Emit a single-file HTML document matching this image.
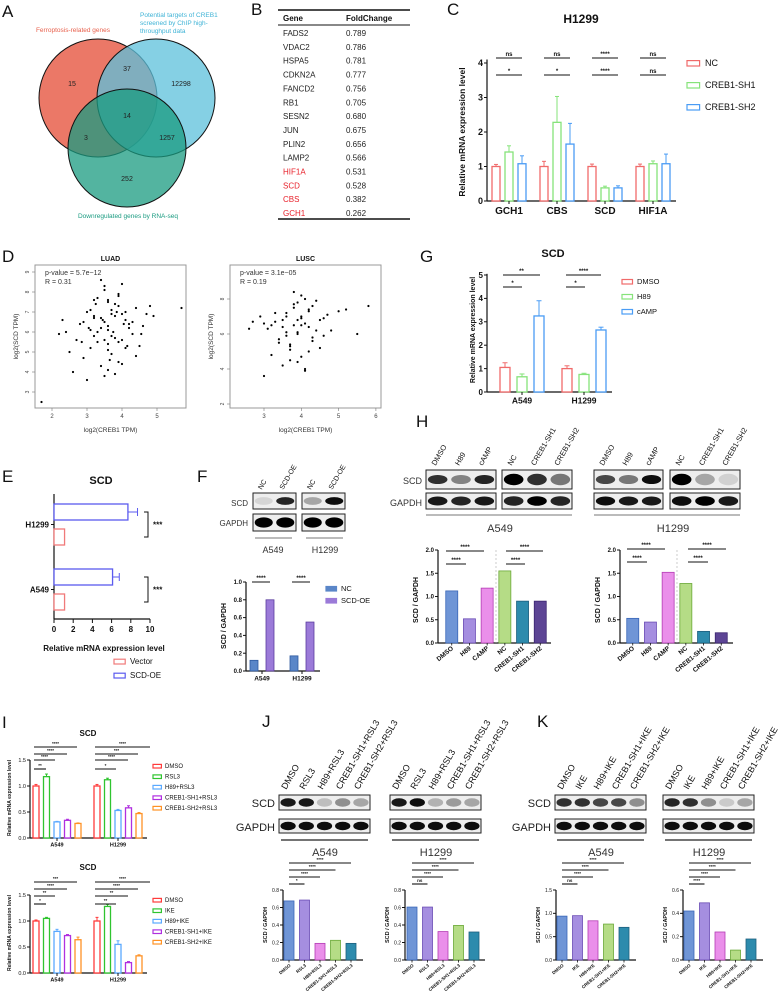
<!DOCTYPE html>
<html><head><meta charset="utf-8"><style>
html,body{margin:0;padding:0;background:#fff;}
svg{display:block;font-family:"Liberation Sans",sans-serif;}
</style></head><body>
<svg id="fig" width="779" height="992" viewBox="0 0 779 992" xmlns="http://www.w3.org/2000/svg"></svg>
<script>
// ---------- data ----------
const vennCounts = [15, 37, 12298, 14, 3, 1257, 252];
const tableGenes = ["FADS2","VDAC2","HSPA5","CDKN2A","FANCD2","RB1","SESN2","JUN","PLIN2","LAMP2","HIF1A","SCD","CBS","GCH1"];
const tableFold = ["0.789","0.786","0.781","0.777","0.756","0.705","0.680","0.675","0.656","0.566","0.531","0.528","0.382","0.262"];
const cCats = ["GCH1","CBS","SCD","HIF1A"];
const cSeries = ["NC","CREB1-SH1","CREB1-SH2"];
const cVals = [[1,1.42,1.08],[1,2.28,1.65],[1,0.38,0.38],[1,1.08,1.08]];
const cErr = [[0.06,0.18,0.23],[0.15,0.75,0.6],[0.07,0.05,0.06],[0.07,0.08,0.28]];
const gCats = ["A549","H1299"];
const gSeries = ["DMSO","H89","cAMP"];
const gVals = [[1.05,0.65,3.25],[1.0,0.75,2.65]];
const gErr = [[0.2,0.12,0.65],[0.12,0.05,0.12]];
const eCats = ["H1299","A549"];
const eVector = [1.1,1.1];
const eOE = [7.7,6.1];
const eOEErr = [1.0,0.7];
const fCats = ["A549","H1299"];
const fVals = [[0.12,0.8],[0.17,0.55]];
const hCats = ["DMSO","H89","CAMP","NC","CREB1-SH1","CREB1-SH2"];
const hA549 = [1.12,0.52,1.18,1.55,0.9,0.9];
const hH1299 = [0.53,0.45,1.52,1.28,0.25,0.22];
const iSeriesTop = ["DMSO","RSL3","H89+RSL3","CREB1-SH1+RSL3","CREB1-SH2+RSL3"];
const iTop = [[1.0,1.18,0.31,0.34,0.28],[1.0,1.12,0.53,0.58,0.47]];
const iTopErr = [[0.03,0.05,0.01,0.02,0.01],[0.03,0.03,0.02,0.04,0.02]];
const iSeriesBot = ["DMSO","IKE","H89+IKE","CREB1-SH1+IKE","CREB1-SH2+IKE"];
const iBot = [[1.0,1.05,0.8,0.72,0.64],[1.0,1.28,0.55,0.2,0.33]];
const iBotErr = [[0.02,0.02,0.04,0.02,0.05],[0.07,0.04,0.07,0.02,0.02]];
const jCats = ["DMSO","RSL3","H89+RSL3","CREB1-SH1+RSL3","CREB1-SH2+RSL3"];
const jA549 = [0.675,0.685,0.19,0.225,0.19];
const jH1299 = [0.605,0.605,0.325,0.395,0.32];
const kCats = ["DMSO","IKE","H89+IKE","CREB1-SH1+IKE","CREB1-SH2+IKE"];
const kA549 = [0.94,0.95,0.84,0.77,0.7];
const kH1299 = [0.42,0.49,0.24,0.085,0.18];
const luadX = [3.5,3.7,3.2,4.0,3.9,3.4,3.6,4.2,3.1,3.8,2.9,4.4,3.3,3.6,4.1,3.0,3.7,3.5,4.6,2.7,3.9,3.4,4.3,3.2,3.8,3.6,2.5,4.0,3.1,4.8,3.5,3.7,2.3,3.9,4.1,3.3,3.6,4.5,2.8,3.4,3.8,4.2,3.0,3.6,4.0,3.2,2.6,4.7,3.5,3.9,1.7,5.7,2.2,3.6,4.4,3.3,3.1,3.8,4.9,2.9,3.7,3.5,4.1,3.4,2.4,3.9,4.3,3.6,3.2,4.0,3.75,3.45,4.15,3.05,3.85,4.55,2.85,3.25,3.65,4.05];
const luadY = [6.5,7.1,5.8,6.9,5.5,6.2,7.6,6.4,5.2,6.8,4.7,7.2,6.0,5.4,6.6,7.0,4.9,8.1,6.3,5.6,7.8,4.3,5.9,6.7,7.4,5.1,5.0,8.4,6.1,7.3,3.8,6.9,6.6,4.5,7.0,7.7,6.3,5.3,6.4,8.6,5.7,6.2,3.6,7.5,4.4,6.8,4.0,6.9,5.6,7.9,2.5,7.2,5.9,6.1,4.8,5.5,7.1,3.9,6.8,6.5,5.8,8.3,5.2,6.7,6.0,7.3,6.5,4.1,7.6,5.6,6.0,6.6,5.3,6.2,7.0,5.9,5.5,7.4,4.6,6.4];
const luscX = [4.0,3.8,4.2,3.5,4.4,3.9,3.6,4.1,3.3,4.6,3.7,4.3,3.1,4.0,3.9,4.7,3.4,4.2,3.8,2.7,4.5,3.6,4.1,3.2,3.9,5.0,3.7,4.3,2.9,4.0,3.5,4.8,3.8,4.2,3.0,4.1,3.6,5.5,3.4,4.4,3.9,2.6,4.0,3.7,5.2,3.3,4.6,3.8,4.1,3.5,3.0,5.8,3.9,4.3,3.6,4.0,3.2,4.5,3.7,4.2];
const luscY = [7.0,6.5,7.4,6.8,6.2,7.8,5.9,6.6,7.2,6.9,5.4,7.6,6.3,8.2,6.0,7.1,5.7,6.4,7.5,6.7,5.2,6.1,8.0,4.8,6.8,7.3,4.5,5.8,7.0,6.5,4.2,6.2,7.7,5.0,6.6,3.9,7.2,6.0,5.5,7.9,4.4,6.3,6.9,5.3,7.4,6.7,5.9,8.4,4.0,6.4,3.6,7.6,6.1,5.6,7.0,4.7,6.5,6.8,5.1,7.3];

// ---------- helpers ----------
const svg = document.getElementById('fig');
const NS = 'http://www.w3.org/2000/svg';
function mk(tag, attrs, name, parent) {
  const e = document.createElementNS(NS, tag);
  for (const k in attrs) e.setAttribute(k, attrs[k]);
  
  
  (parent || svg).appendChild(e);
  return e;
}
function txt(x, y, s, size, name, opt) {
  opt = opt || {};
  const t = mk('text', {x: x, y: y, 'font-size': size, fill: opt.fill || '#111', 'text-anchor': opt.anchor || 'start',
    'font-weight': opt.bold ? 'bold' : 'normal'}, name);
  if (opt.rot !== undefined) t.setAttribute('transform', 'rotate(' + opt.rot + ' ' + x + ' ' + y + ')');
  t.textContent = s;
  return t;
}
function line(x1, y1, x2, y2, name, w, c) {
  return mk('line', {x1: x1, y1: y1, x2: x2, y2: y2, stroke: c || '#111', 'stroke-width': w || 1}, name);
}
function letter(x, y, s) { txt(x, y, s, 17, 'panel-label-' + s.toLowerCase()); }

// vertical bar chart
function vchart(o) {
  const Y = v => o.y0 - v * o.ppu;
  line(o.ax, o.y0, o.ax, Y(o.ymax), o.name + '-y-axis', 1.2);
  line(o.ax, o.y0, o.xEnd, o.y0, o.name + '-x-axis', 1.2);
  o.ticks.forEach(t => {
    line(o.ax - 3, Y(t), o.ax, Y(t), o.name + '-y-tick', 1);
    txt(o.ax - 4, Y(t) + o.tf * 0.35, o.tickFmt ? t.toFixed(1) : String(t), o.tf, o.name + '-y-tick-label', {anchor: 'end', bold: o.boldTicks});
  });
  o.values.forEach((grp, g) => {
    const n = grp.length;
    grp.forEach((v, s) => {
      const cx = o.centers[g] + (s - (n - 1) / 2) * o.step;
      const col = o.colors[s];
      const r = mk('rect', {x: cx - o.bw / 2, y: Y(v), width: o.bw, height: v * o.ppu,
        fill: o.hollow ? '#fff' : col, stroke: o.hollow ? col : o.edge[s], 'stroke-width': o.hollow ? 1.3 : 0.8}, 'bar-' + o.name + '-' + g + '-' + s);
      if (o.errors) {
        const e = o.errors[g][s];
        line(cx, Y(v), cx, Y(v + e), 'error-bar', 1, o.hollow ? col : '#333');
        line(cx - o.bw / 4, Y(v + e), cx + o.bw / 4, Y(v + e), 'error-cap', 1, o.hollow ? col : '#333');
      }
    });
  });
  if (o.catLabels) o.catLabels.forEach((c, g) => {
    line(o.centers[g], o.y0, o.centers[g], o.y0 + 3, 'x-tick', 1);
    txt(o.centers[g], o.y0 + o.cf + 3, c, o.cf, o.name + '-x-label', {anchor: 'middle', bold: true});
  });
}
function vbarLabels(o, labels, size) {
  const n = labels.length;
  labels.forEach((c, s) => {
    const cx = o.centers[0] + (s - (n - 1) / 2) * o.step;
    line(cx, o.y0, cx, o.y0 + 2.5, 'x-tick', 0.8);
    txt(cx + 2, o.y0 + 6, c, size, o.name + '-x-label', {anchor: 'end', rot: -40, bold: true});
  });
}
function sig(x1, x2, y, s, name, size) {
  line(x1, y, x2, y, name + '-line', 1.1);
  txt((x1 + x2) / 2, y - 2, s, size || 6, name, {anchor: 'middle', bold: true});
}
function legend(x, y, dy, items, colors, size, hollow, name) {
  items.forEach((it, i) => {
    mk('rect', {x: x, y: y + i * dy - size * 0.6, width: size * 1.4, height: size * 0.6,
      fill: hollow ? '#fff' : colors[i], stroke: colors[i], 'stroke-width': 1.2}, name + '-swatch');
    txt(x + size * 2, y + i * dy, it, size, name + '-entry', {});
  });
}
function blot(x, y, w, h, ints, name, thick) {
  mk('rect', {x: x, y: y, width: w, height: h, fill: '#eee', stroke: '#222', 'stroke-width': 1}, name);
  const n = ints.length;
  ints.forEach((v, i) => {
    const cx = x + w * (i + 0.5) / n;
    mk('ellipse', {cx: cx, cy: y + h / 2, rx: w / n * 0.42, ry: h * (thick || 0.24), fill: '#000', opacity: v}, name + '-band');
  });
}
function laneLabels(x, w, n, y, labels, size, name) {
  labels.forEach((s, i) => {
    const cx = x + w * (i + 0.5) / n;
    txt(cx - 2, y, s, size, name, {rot: -60});
  });
}
function rotLabel(x, y, s, size, name) { txt(x, y, s, size, name, {anchor: 'middle', rot: -90, bold: true}); }

// ---------- A: Venn ----------
letter(2, 17, 'A');
mk('circle', {cx: 98, cy: 98, r: 59, fill: '#e8604c', 'fill-opacity': 0.85, stroke: '#111'}, 'venn-ferroptosis');
mk('circle', {cx: 156, cy: 98, r: 59, fill: '#5cc0db', 'fill-opacity': 0.75, stroke: '#111'}, 'venn-chip-targets');
mk('circle', {cx: 127, cy: 148, r: 59, fill: '#1a9b80', 'fill-opacity': 0.75, stroke: '#111'}, 'venn-downregulated');
txt(73, 32, 'Ferroptosis-related genes', 6.5, 'venn-label-ferroptosis', {anchor: 'middle', fill: '#e8604c'});
txt(140, 17, 'Potential targets of CREB1', 6.5, 'venn-label-chip', {fill: '#3fb3d6'});
txt(140, 25, 'screened by ChIP high-', 6.5, 'venn-label-chip', {fill: '#3fb3d6'});
txt(140, 33, 'throughput data', 6.5, 'venn-label-chip', {fill: '#3fb3d6'});
txt(128, 218, 'Downregulated genes by RNA-seq', 6.5, 'venn-label-rnaseq', {anchor: 'middle', fill: '#1a9b80'});
const vennPos = [[72,86],[127,71],[181,86],[127,118],[86,140],[167,140],[127,181]];
vennCounts.forEach((c, i) => txt(vennPos[i][0], vennPos[i][1], String(c), 7, 'venn-count', {anchor: 'middle', fill: '#222'}));

// ---------- B: table ----------
letter(251, 15, 'B');
line(278, 10, 410, 10, 'table-top-rule', 1.5);
txt(283, 21, 'Gene', 8, 'table-header-gene', {bold: true});
txt(346, 21, 'FoldChange', 8, 'table-header-fold', {bold: true});
line(278, 25, 410, 25, 'table-header-rule', 1);
tableGenes.forEach((g, i) => {
  const y = 36 + i * 13.85;
  const red = i >= 10;
  txt(283, y, g, 8, 'table-gene', {fill: red ? '#e8202a' : '#222'});
  txt(346, y, tableFold[i], 8, 'table-fold', {fill: '#222'});
});
line(278, 219, 410, 219, 'table-bottom-rule', 1.5);

// ---------- C ----------
letter(447, 15, 'C');
txt(581, 23, 'H1299', 12, 'c-title', {anchor: 'middle', bold: true});
const cColors = ['#f06a6a', '#86e37a', '#4a9cf5'];
vchart({name: 'c', ax: 487, y0: 201, ppu: 34.5, ymax: 4.1, ticks: [0,1,2,3,4], tf: 9, boldTicks: true, xEnd: 676,
  values: cVals, errors: cErr, centers: [509,557,605,653], step: 13, bw: 8, colors: cColors, hollow: true,
  catLabels: cCats, cf: 10});
rotLabel(465, 132, 'Relative mRNA expression level', 8.5, 'c-y-axis-title');
[[496,522,'*'],[544,570,'*'],[592,618,'****'],[640,666,'ns']].forEach((s, i) => sig(s[0], s[1], 75, s[2], 'c-sig-lower'));
[[496,522],[544,570],[592,618],[640,666]].forEach(s => sig(s[0], s[1], 58, ['ns','ns','****','ns'][[496,544,592,640].indexOf(s[0])], 'c-sig-upper'));
legend(687, 66, 22, cSeries, cColors, 9, true, 'c-legend');

// ---------- D ----------
letter(2, 262, 'D');
function scatter(name, bx, by, bw, bh, xs, ys, xT, yT, X, Y, title, pv, rv) {
  mk('rect', {x: bx, y: by, width: bw, height: bh, fill: '#fff', stroke: '#999', 'stroke-width': 1}, name + '-plot-box');
  txt(bx + bw / 2, by - 4, title, 7, name + '-title', {anchor: 'middle', bold: true});
  const n = Math.min(xs.length, ys.length);
  for (let i = 0; i < n; i++) mk('circle', {cx: X(xs[i]), cy: Y(ys[i]), r: 1.1, fill: '#000'}, name + '-point');
  xT.forEach(t => { line(X(t), by + bh, X(t), by + bh + 3, 'x-tick', 0.6, '#777'); txt(X(t), by + bh + 10, String(t), 6, name + '-x-tick-label', {anchor: 'middle', fill: '#444'}); });
  yT.forEach(t => { line(bx - 3, Y(t), bx, Y(t), 'y-tick', 0.6, '#777'); txt(bx - 6, Y(t), String(t), 5, name + '-y-tick-label', {anchor: 'middle', rot: -90, fill: '#444'}); });
  txt(bx + bw / 2, 432, 'log2(CREB1 TPM)', 6.5, name + '-x-axis-title', {anchor: 'middle', fill: '#333'});
  txt(bx - 17, by + bh / 2, 'log2(SCD TPM)', 6.5, name + '-y-axis-title', {anchor: 'middle', rot: -90, fill: '#333'});
  txt(bx + 10, by + 10, pv, 7, name + '-pvalue', {fill: '#333'});
  txt(bx + 10, by + 19, rv, 7, name + '-r', {fill: '#333'});
}
scatter('luad', 35, 265, 151, 143, luadX, luadY, [2,3,4,5], [3,4,5,6,7,8,9], v => 52 + (v - 2) * 35, v => 392 - (v - 3) * 20, 'LUAD', 'p-value = 5.7e\u221212', 'R = 0.31');
scatter('lusc', 230, 265, 151, 143, luscX, luscY, [3,4,5,6], [2,4,6,8], v => 264 + (v - 3) * 37.3, v => 404 - (v - 2) * 17.5, 'LUSC', 'p-value = 3.1e\u221205', 'R = 0.19');

// ---------- G ----------
letter(420, 262, 'G');
txt(553, 257, 'SCD', 11, 'g-title', {anchor: 'middle', bold: true});
vchart({name: 'g', ax: 487, y0: 392, ppu: 23.4, ymax: 5.05, ticks: [0,1,2,3,4,5], tf: 8, boldTicks: true, xEnd: 612,
  values: gVals, errors: gErr, centers: [522,584], step: 17, bw: 10, colors: ['#f06a6a','#86e37a','#4a9cf5'], hollow: true,
  catLabels: gCats, cf: 8.5});
rotLabel(475, 330, 'Relative mRNA expression level', 7, 'g-y-axis-title');
sig(503, 522, 287, '*', 'g-sig'); sig(503, 540, 275, '**', 'g-sig');
sig(566, 585, 287, '*', 'g-sig'); sig(566, 601, 275, '****', 'g-sig');
legend(622, 284, 15, gSeries, ['#f06a6a','#86e37a','#4a9cf5'], 7.5, true, 'g-legend');

// ---------- E ----------
letter(2, 482, 'E');
txt(101, 484, 'SCD', 11, 'e-title', {anchor: 'middle', bold: true});
(function(){
  const X = v => 54 + v * 9.6;
  line(54, 494, 54, 619, 'e-y-axis', 1.2);
  line(54, 619, 150, 619, 'e-x-axis', 1.2);
  [0,2,4,6,8,10].forEach(t => { line(X(t), 619, X(t), 623, 'x-tick', 1); txt(X(t), 632, String(t), 8, 'e-x-tick-label', {anchor: 'middle', bold: true}); });
  const rows = [[504, 529], [569, 594]];
  eCats.forEach((c, i) => {
    mk('rect', {x: 54, y: rows[i][0], width: X(eOE[i]) - 54, height: 16, fill: '#fff', stroke: '#5b5bef', 'stroke-width': 1.3}, 'bar-e-scd-oe');
    line(X(eOE[i]), rows[i][0] + 8, X(eOE[i] + eOEErr[i]), rows[i][0] + 8, 'error-bar', 1, '#5b5bef');
    line(X(eOE[i] + eOEErr[i]), rows[i][0] + 4, X(eOE[i] + eOEErr[i]), rows[i][0] + 12, 'error-cap', 1, '#5b5bef');
    mk('rect', {x: 54, y: rows[i][1], width: X(eVector[i]) - 54, height: 16, fill: '#fff', stroke: '#f07a7a', 'stroke-width': 1.3}, 'bar-e-vector');
    line(51, (rows[i][0] + rows[i][1] + 16) / 2, 54, (rows[i][0] + rows[i][1] + 16) / 2, 'y-tick', 1);
    txt(49, (rows[i][0] + rows[i][1] + 16) / 2 + 3, c, 8, 'e-y-label', {anchor: 'end', bold: true});
    const top = rows[i][0] + 8, bot = rows[i][1] + 8;
    mk('path', {d: 'M144,' + top + ' H148 V' + bot + ' H144', fill: 'none', stroke: '#111', 'stroke-width': 1}, 'e-bracket');
    txt(153, (top + bot) / 2 + 3, '***', 8, 'e-sig', {bold: true});
  });
  txt(104, 651, 'Relative mRNA expression level', 8, 'e-x-axis-title', {anchor: 'middle', bold: true});
  legend(114, 664, 14, ['Vector','SCD-OE'], ['#f07a7a','#5b5bef'], 8, true, 'e-legend');
})();

// ---------- F ----------
letter(197, 482, 'F');
laneLabels(253, 43, 2, 490, ['NC','SCD-OE'], 7, 'f-lane-label');
laneLabels(302, 43, 2, 490, ['NC','SCD-OE'], 7, 'f-lane-label');
blot(253, 493, 43, 16, [0.1, 0.85], 'f-blot-a549-scd');
blot(302, 493, 43, 16, [0.3, 0.95], 'f-blot-h1299-scd');
blot(253, 514, 43, 17, [1, 1], 'f-blot-a549-gapdh', 0.3);
blot(302, 514, 43, 17, [1, 1], 'f-blot-h1299-gapdh', 0.3);
txt(248, 506, 'SCD', 8, 'f-row-label', {anchor: 'end', fill: '#333'});
txt(248, 526, 'GAPDH', 8, 'f-row-label', {anchor: 'end', fill: '#333'});
line(255, 538, 292, 538, 'f-group-line', 1, '#777'); line(306, 538, 343, 538, 'f-group-line', 1, '#777');
txt(273, 553, 'A549', 9, 'f-group-label', {anchor: 'middle', fill: '#333'});
txt(325, 553, 'H1299', 9, 'f-group-label', {anchor: 'middle', fill: '#333'});
vchart({name: 'f', ax: 246, y0: 671, ppu: 89, ymax: 1.0, ticks: [0,0.2,0.4,0.6,0.8,1.0], tickFmt: true, tf: 6, boldTicks: true, xEnd: 320,
  values: fVals, centers: [262,302], step: 16, bw: 8, colors: ['#5a86c8','#9b7ad8'], edge: ['#2f5aa0','#5b3d9f'], catLabels: fCats, cf: 6.5});
rotLabel(226, 626, 'SCD / GAPDH', 7, 'f-y-axis-title');
sig(252, 270, 582, '****', 'f-sig'); sig(292, 310, 582, '****', 'f-sig');
legend(326, 591, 12, ['NC','SCD-OE'], ['#5a86c8','#9b7ad8'], 7.5, false, 'f-legend');

// ---------- H ----------
letter(416, 427, 'H');
const hLanes1 = ['DMSO','H89','cAMP'], hLanes2 = ['NC','CREB1-SH1','CREB1-SH2'];
laneLabels(426, 70, 3, 466, hLanes1, 7.5, 'h-lane-label'); laneLabels(502, 70, 3, 466, hLanes2, 7.5, 'h-lane-label');
laneLabels(594, 69, 3, 466, hLanes1, 7.5, 'h-lane-label'); laneLabels(670, 70, 3, 466, hLanes2, 7.5, 'h-lane-label');
blot(426, 470, 70, 19, [0.8,0.45,0.85], 'h-blot-a549-scd-1');
blot(502, 470, 70, 19, [1,0.8,0.5], 'h-blot-a549-scd-2', 0.3);
blot(594, 470, 69, 19, [0.7,0.5,0.95], 'h-blot-h1299-scd-1');
blot(670, 470, 70, 19, [1,0.3,0.12], 'h-blot-h1299-scd-2', 0.3);
blot(426, 493, 70, 16, [0.9,0.85,0.9], 'h-blot-a549-gapdh-1', 0.28);
blot(502, 493, 70, 16, [0.85,1,0.85], 'h-blot-a549-gapdh-2', 0.3);
blot(594, 493, 69, 16, [0.95,0.9,0.9], 'h-blot-h1299-gapdh-1', 0.28);
blot(670, 493, 70, 16, [0.95,1,0.9], 'h-blot-h1299-gapdh-2', 0.3);
txt(422, 484, 'SCD', 9, 'h-row-label', {anchor: 'end', fill: '#333'});
txt(422, 506, 'GAPDH', 9, 'h-row-label', {anchor: 'end', fill: '#333'});
line(426, 515, 572, 515, 'h-group-line', 1, '#777'); line(594, 515, 740, 515, 'h-group-line', 1, '#777');
txt(500, 532, 'A549', 11, 'h-group-label', {anchor: 'middle', fill: '#333'});
txt(673, 532, 'H1299', 11, 'h-group-label', {anchor: 'middle', fill: '#333'});
const hColors = ['#6f95d6','#a58ee0','#ea8fea','#b5dc86','#2d8bad','#5d4595'];
const hEdge = ['#3a66b8','#6a4cb4','#b43cb4','#6aa838','#1c5f7e','#3b2570'];
const hA = {name: 'h-a549', ax: 438, y0: 643, ppu: 46.5, ymax: 2.0, ticks: [0,0.5,1,1.5,2], tickFmt: true, tf: 6, boldTicks: true, xEnd: 551,
  values: [hA549], centers: [496], step: 17.7, bw: 12, colors: hColors, edge: hEdge};
vchart(hA); vbarLabels(hA, hCats, 6.5);
const hH = {name: 'h-h1299', ax: 620, y0: 643, ppu: 46.5, ymax: 2.0, ticks: [0,0.5,1,1.5,2], tickFmt: true, tf: 6, boldTicks: true, xEnd: 733,
  values: [hH1299], centers: [677], step: 17.7, bw: 12, colors: hColors, edge: hEdge};
vchart(hH); vbarLabels(hH, hCats, 6.5);
line(496, 550, 496, 643, 'h-divider', 0.6, '#aaa').setAttribute('stroke-dasharray', '2,2');
line(677, 550, 677, 643, 'h-divider', 0.6, '#aaa').setAttribute('stroke-dasharray', '2,2');
rotLabel(418, 600, 'SCD / GAPDH', 7, 'h-a549-y-axis-title'); rotLabel(600, 600, 'SCD / GAPDH', 7, 'h-h1299-y-axis-title');
sig(446, 466, 564, '****', 'h-sig'); sig(446, 484, 551, '****', 'h-sig');
sig(506, 525, 564, '****', 'h-sig'); sig(506, 543, 551, '****', 'h-sig');
sig(627, 647, 562, '****', 'h-sig'); sig(627, 665, 549, '****', 'h-sig');
sig(688, 708, 562, '****', 'h-sig'); sig(688, 726, 549, '****', 'h-sig');

// ---------- I ----------
letter(2, 728, 'I');
const iColors = ['#ff3b3b','#2fc42f','#5aa9ff','#b02fe0','#ff9225'];
txt(88, 736, 'SCD', 8, 'i-top-title', {anchor: 'middle', bold: true});
vchart({name: 'i-top', ax: 30, y0: 838, ppu: 52, ymax: 1.5, ticks: [0,0.5,1,1.5], tickFmt: true, tf: 5.5, xEnd: 147,
  values: iTop, errors: iTopErr, centers: [57,118], step: 10.5, bw: 6, colors: iColors, hollow: true, catLabels: gCats, cf: 5.5});
rotLabel(11, 798, 'Relative mRNA expression level', 5, 'i-top-y-axis-title');
[[34,46,769,'**'],[34,55,760,'****'],[34,67,754,'****'],[34,77,747,'****'],[95,116,769,'*'],[95,128,760,'****'],[95,138,754,'***'],[95,150,747,'****']].forEach(s => sig(s[0], s[1], s[2], s[3], 'i-top-sig', 4.5));
legend(153, 768, 10.5, iSeriesTop, iColors, 6, true, 'i-top-legend');
txt(88, 870, 'SCD', 8, 'i-bottom-title', {anchor: 'middle', bold: true});
vchart({name: 'i-bottom', ax: 30, y0: 973, ppu: 52, ymax: 1.5, ticks: [0,0.5,1,1.5], tickFmt: true, tf: 5.5, xEnd: 147,
  values: iBot, errors: iBotErr, centers: [57,118], step: 10.5, bw: 6, colors: iColors, hollow: true, catLabels: gCats, cf: 5.5});
rotLabel(11, 933, 'Relative mRNA expression level', 5, 'i-bottom-y-axis-title');
[[34,46,904,'*'],[34,55,896,'**'],[34,67,889,'****'],[34,77,882,'***'],[95,116,904,'**'],[95,128,896,'**'],[95,138,889,'****'],[95,150,882,'****']].forEach(s => sig(s[0], s[1], s[2], s[3], 'i-bottom-sig', 4.5));
legend(153, 902, 10.5, iSeriesBot, iColors, 6, true, 'i-bottom-legend');

// ---------- J & K ----------
const jkColors = ['#6f95d6','#a58ee0','#ea8fea','#b5dc86','#2d8bad'];
const jkEdge = ['#3a66b8','#6a4cb4','#b43cb4','#6aa838','#1c5f7e'];
function wbPanel(p, L, cats, xs, ints, vals, ymaxs, tickss, axes, centers, sigLbls) {
  letter(L[0], L[1], p.toUpperCase());
  [0,1].forEach(k => {
    laneLabels(xs[k], 91, 5, 790, cats.map(c => c), 9, p + '-lane-label');
    blot(xs[k], 795, 91, 15, ints[k], p + '-blot-scd-' + k, 0.28);
    blot(xs[k], 819, 91, 14, [0.95,0.95,0.95,0.95,0.95], p + '-blot-gapdh-' + k, 0.3);
    line(xs[k] + 2, 840, xs[k] + 89, 840, p + '-group-line', 1.3, '#222');
    txt(xs[k] + 46, 856, ['A549','H1299'][k], 11, p + '-group-label', {anchor: 'middle', fill: '#333'});
    const o = {name: p + '-' + k, ax: axes[k], y0: 960, ppu: 70 / ymaxs[k], ymax: ymaxs[k], ticks: tickss[k], tickFmt: true, tf: 5, xEnd: axes[k] + 80,
      values: [vals[k]], centers: [centers[k]], step: 15.5, bw: 10, colors: jkColors, edge: jkEdge};
    vchart(o); vbarLabels(o, cats, 4.5);
    rotLabel(axes[k] - 16, 925, 'SCD / GAPDH', 5.5, p + '-y-axis-title-' + k);
    for (let s = 1; s < 5; s++) sig(centers[k] - 31, centers[k] - 31 + s * 15.5, 884 - (s - 1) * 7, sigLbls[k][s - 1], p + '-sig', 4.5);
  });
  txt(xs[0] - 4, 807, 'SCD', 11, p + '-row-label', {anchor: 'end', fill: '#222'});
  txt(xs[0] - 4, 831, 'GAPDH', 11, p + '-row-label', {anchor: 'end', fill: '#222'});
}
wbPanel('j', [262, 727], jCats, [279, 390], [[0.9,0.9,0.2,0.4,0.3],[0.9,0.95,0.25,0.35,0.3]], [jA549, jH1299],
  [0.8, 0.8], [[0,0.2,0.4,0.6,0.8],[0,0.2,0.4,0.6,0.8]], [283, 405], [320, 443],
  [['*','****','****','****'],['ns','****','****','****']]);
wbPanel('k', [537, 727], kCats, [555, 663], [[0.8,0.8,0.7,0.7,0.4],[0.85,0.8,0.4,0.15,0.3]], [kA549, kH1299],
  [1.5, 0.6], [[0,0.5,1,1.5],[0,0.2,0.4,0.6]], [556, 683], [593, 720],
  [['ns','****','****','****'],['****','****','****','****']]);
</script>
</body></html>
